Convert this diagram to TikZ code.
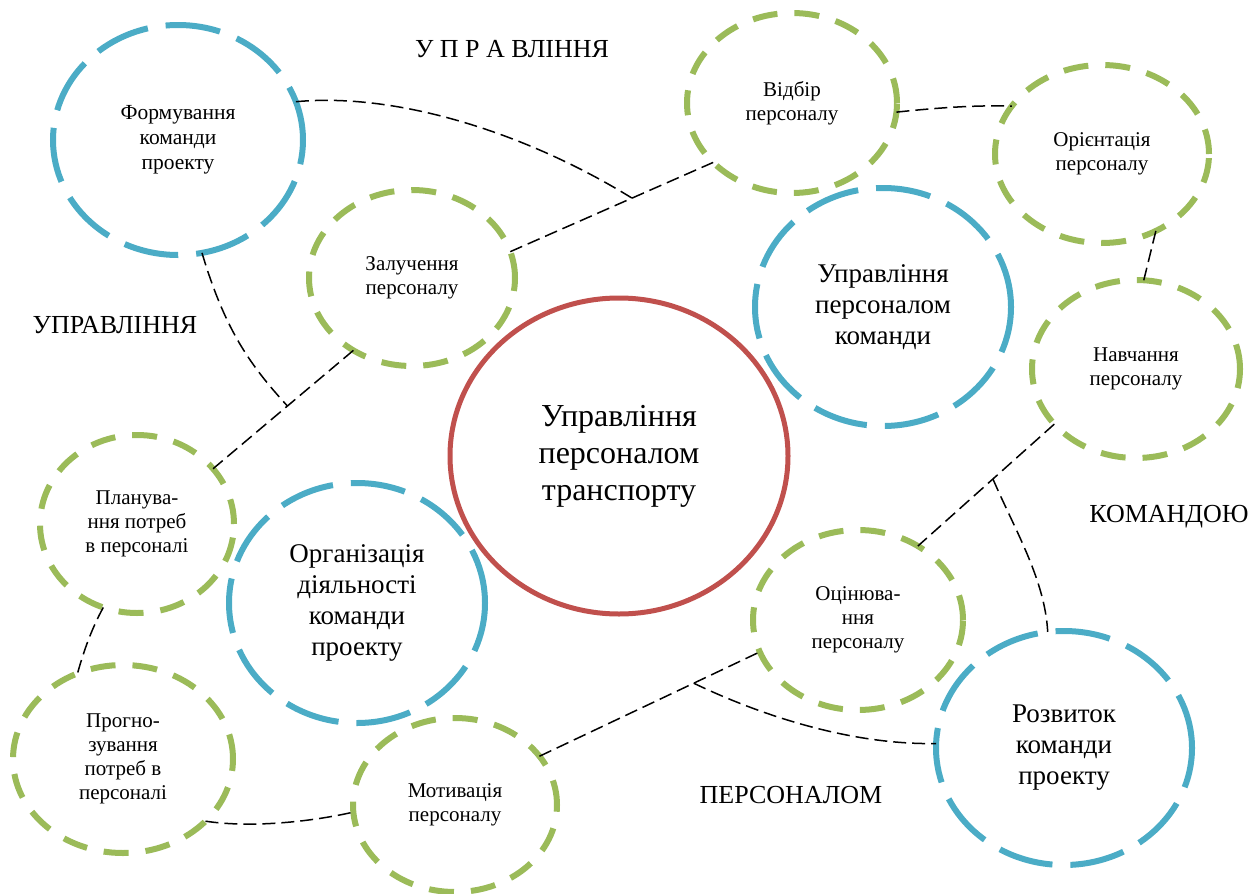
\documentclass[tikz,border=0pt]{standalone}
\usepackage{fontspec}
\setmainfont{Liberation Serif}
\usetikzlibrary{shapes.geometric,calc}
\definecolor{ringblue}{HTML}{4BACC6}
\definecolor{ringgreen}{HTML}{9BBB59}
\definecolor{ringred}{HTML}{C0504D}
\tikzset{
  ring/.style={ellipse, outer sep=0pt, inner sep=0pt, align=center},
  greenring/.style={ring, draw=ringgreen, line width=6pt, dash pattern=on 25pt off 17pt,
    font=\fontsize{21}{24}\selectfont},
  bluering/.style={ring, draw=ringblue, line width=6pt, dash pattern=on 55pt off 18pt,
    font=\fontsize{27}{31}\selectfont},
  redring/.style={ring, draw=ringred, line width=5pt, font=\fontsize{32}{37}\selectfont},
  linkline/.style={black, line width=1.5pt, dash pattern=on 13pt off 6pt},
  bigword/.style={anchor=base, inner sep=0pt, font=\fontsize{26}{30}\selectfont}
}
\begin{document}
\begin{tikzpicture}[x=1pt,y=-1pt]
  \useasboundingbox (0,0) rectangle (1253,894);
  % rings
  \node[redring, minimum width=338pt, minimum height=316pt] (centre) at (619,456)
    {Управління\\персоналом\\транспорту};
  \node[bluering, minimum width=250pt, minimum height=230pt,
    font=\fontsize{21.5}{25}\selectfont] (form) at (178,140) {Формування\\команди\\проекту};
  \node[bluering, minimum width=256pt, minimum height=238pt] (team) at (883,307)
    {Управління\\персоналом\\команди};
  \node[bluering, minimum width=256pt, minimum height=240pt] (org) at (357,603)
    {Організація\\діяльності\\команди\\проекту};
  \node[bluering, minimum width=256pt, minimum height=234pt] (growth) at (1064,748)
    {Розвиток\\команди\\проекту};
  \node[greenring, minimum width=206pt, minimum height=176pt] (attract) at (412,278)
    {Залучення\\персоналу};
  \node[greenring, minimum width=210pt, minimum height=180pt] (select) at (792,103)
    {Відбір\\персоналу};
  \node[greenring, minimum width=214pt, minimum height=178pt] (orient) at (1102,154)
    {Орієнтація\\персоналу};
  \node[greenring, minimum width=208pt, minimum height=178pt] (train) at (1136,369)
    {Навчання\\персоналу};
  \node[greenring, minimum width=210pt, minimum height=180pt] (assess) at (858,620)
    {Оцінюва-\\ння\\персоналу};
  \node[greenring, minimum width=194pt, minimum height=178pt] (plan) at (137,524)
    {Планува-\\ння потреб\\в персоналі};
  \node[greenring, minimum width=220pt, minimum height=188pt] (forecast) at (123,759)
    {Прогно-\\зування\\потреб в\\персоналі};
  \node[greenring, minimum width=204pt, minimum height=174pt] (motiv) at (455,805)
    {Мотивація\\персоналу};
  % words round the picture
  \node[bigword] (wtop) at (512,57) {У П Р А ВЛІННЯ};
  \node[bigword] (wleft) at (115,333) {УПРАВЛІННЯ};
  \node[bigword] (wright) at (1169,522) {КОМАНДОЮ};
  \node[bigword] (wbottom) at (791,803) {ПЕРСОНАЛОМ};
  % meeting points
  \coordinate (j1) at ($(attract.15)!0.6!(select.-143)$);
  \coordinate (j2) at ($(attract.-129)!0.47!(plan.36)$);
  \coordinate (j3) at ($(motiv.30)!0.7!(assess.-162)$);
  \coordinate (j4) at ($(train.-146)!0.45!(assess.51)$);
  \begin{scope}[linkline]
    \draw (attract.15) to (select.-143);
    \draw (form.18) .. controls (400,92) and (530,135) .. (j1);
    \draw (attract.-129) to (plan.36);
    \draw (form.-78) .. controls (225,330) and (250,365) .. (j2);
    \draw (plan.-112) .. controls (92,628) and (84,650) .. (forecast.118);
    \draw (forecast.-37) .. controls (250,828) and (310,822) .. (motiv.-176);
    \draw (motiv.30) to (assess.-162);
    \draw (j3) .. controls (760,715) and (850,745) .. (growth.178);
    \draw (train.-146) to (assess.51);
    \draw (j4) .. controls (1015,530) and (1045,580) .. (growth.98);
    \draw (select.-5) .. controls (935,108) and (975,105) .. (orient.152);
    \draw (orient.-55) to (train.85);
  \end{scope}
\end{tikzpicture}
\end{document}
